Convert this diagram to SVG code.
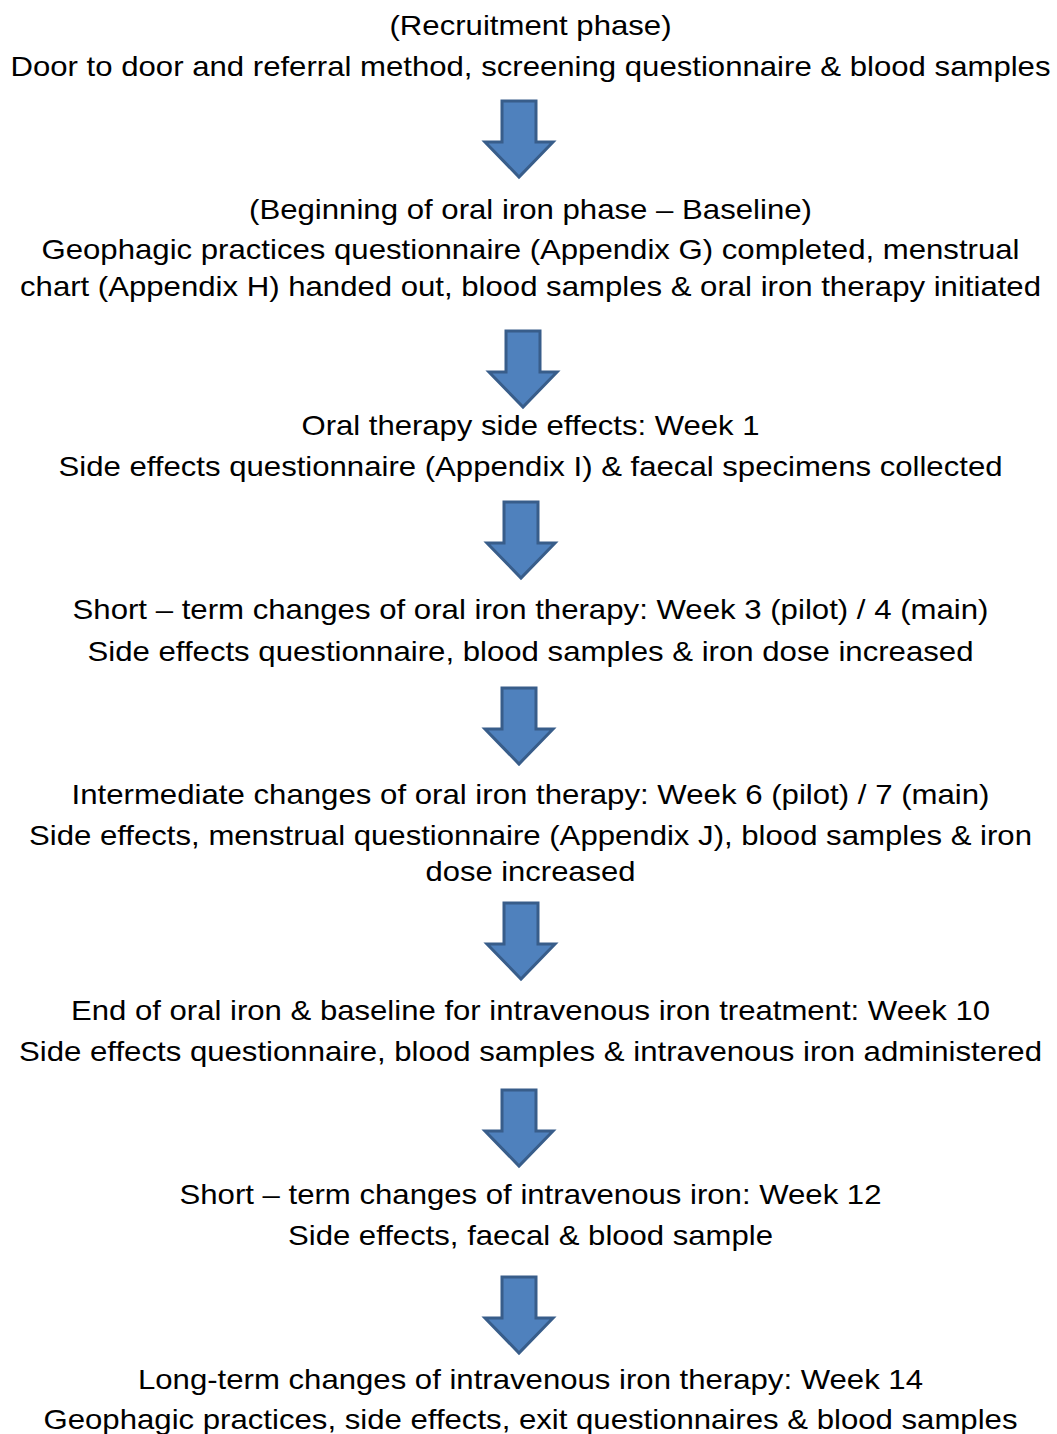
<svg xmlns="http://www.w3.org/2000/svg" width="1057" height="1434" viewBox="0 0 1057 1434">
<style>
text{font-family:"Liberation Sans",Arial,sans-serif;font-size:28px;fill:#000;text-anchor:middle}
.arr{fill:#4f81bd;stroke:#385d8a;stroke-width:3;stroke-linejoin:miter}
</style>
<defs>
<path id="a" d="M-17,0 H17 V41 H34 L0,76 L-34,41 H-17 Z"/>
</defs>
<rect width="1057" height="1434" fill="#fff"/>
<g id="n1"><text x="530.5" y="35" textLength="282" lengthAdjust="spacingAndGlyphs">(Recruitment phase)</text><text x="530.5" y="76" textLength="1040" lengthAdjust="spacingAndGlyphs">Door to door and referral method, screening questionnaire &amp; blood samples</text></g>
<g id="n2"><text x="530.5" y="219" textLength="563" lengthAdjust="spacingAndGlyphs">(Beginning of oral iron phase – Baseline)</text><text x="530.5" y="259" textLength="978" lengthAdjust="spacingAndGlyphs">Geophagic practices questionnaire (Appendix G) completed, menstrual</text><text x="530.5" y="296" textLength="1021" lengthAdjust="spacingAndGlyphs">chart (Appendix H) handed out, blood samples &amp; oral iron therapy initiated</text></g>
<g id="n3"><text x="530.5" y="435" textLength="458" lengthAdjust="spacingAndGlyphs">Oral therapy side effects: Week 1</text><text x="530.5" y="476" textLength="944" lengthAdjust="spacingAndGlyphs">Side effects questionnaire (Appendix I) &amp; faecal specimens collected</text></g>
<g id="n4"><text x="530.5" y="619" textLength="916" lengthAdjust="spacingAndGlyphs">Short – term changes of oral iron therapy: Week 3 (pilot) / 4 (main)</text><text x="530.5" y="661" textLength="886" lengthAdjust="spacingAndGlyphs">Side effects questionnaire, blood samples &amp; iron dose increased</text></g>
<g id="n5"><text x="530.5" y="804" textLength="918" lengthAdjust="spacingAndGlyphs">Intermediate changes of oral iron therapy: Week 6 (pilot) / 7 (main)</text><text x="530.5" y="845" textLength="1003" lengthAdjust="spacingAndGlyphs">Side effects, menstrual questionnaire (Appendix J), blood samples &amp; iron</text><text x="530.5" y="881" textLength="210" lengthAdjust="spacingAndGlyphs">dose increased</text></g>
<g id="n6"><text x="530.5" y="1020" textLength="919" lengthAdjust="spacingAndGlyphs">End of oral iron &amp; baseline for intravenous iron treatment: Week 10</text><text x="530.5" y="1061" textLength="1023" lengthAdjust="spacingAndGlyphs">Side effects questionnaire, blood samples &amp; intravenous iron administered</text></g>
<g id="n7"><text x="530.5" y="1204" textLength="702" lengthAdjust="spacingAndGlyphs">Short – term changes of intravenous iron: Week 12</text><text x="530.5" y="1245" textLength="485" lengthAdjust="spacingAndGlyphs">Side effects, faecal &amp; blood sample</text></g>
<g id="n8"><text x="530.5" y="1389" textLength="785" lengthAdjust="spacingAndGlyphs">Long-term changes of intravenous iron therapy: Week 14</text><text x="530.5" y="1429" textLength="974" lengthAdjust="spacingAndGlyphs">Geophagic practices, side effects, exit questionnaires &amp; blood samples</text></g>
<g id="connectors">
<use href="#a" class="arr" x="519" y="101"/>
<use href="#a" class="arr" x="523" y="331"/>
<use href="#a" class="arr" x="521" y="502"/>
<use href="#a" class="arr" x="519" y="688"/>
<use href="#a" class="arr" x="521" y="903"/>
<use href="#a" class="arr" x="519" y="1090"/>
<use href="#a" class="arr" x="519" y="1277"/>
</g>
</svg>
